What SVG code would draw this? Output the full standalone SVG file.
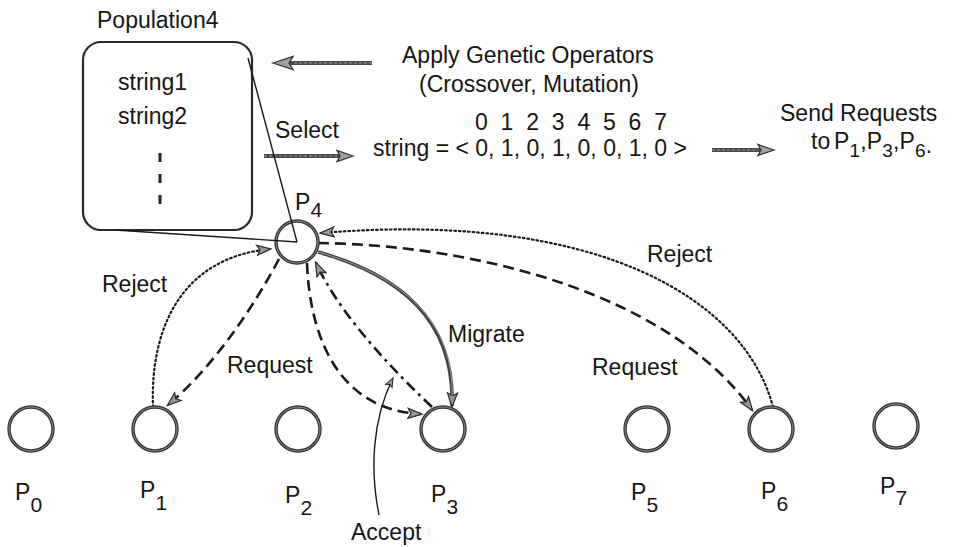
<svg xmlns="http://www.w3.org/2000/svg" width="965" height="547" viewBox="0 0 965 547">
  <style>
    text { font-family: "Liberation Sans", Arial, Helvetica, sans-serif; font-size: 23px; fill: #151515; }
    .node { fill: #fff; stroke: #333; stroke-width: 3.4; }
    .node-in { fill: none; stroke: #8c8c8c; stroke-width: 1; }
    .box { fill: #fff; stroke: #2a2a2a; stroke-width: 2.2; }
    .thin { fill: none; stroke: #1a1a1a; stroke-width: 1.4; }
    .dash { fill: none; stroke: #1a1a1a; stroke-width: 2.6; stroke-dasharray: 11 6; }
    .dot { fill: none; stroke: #1a1a1a; stroke-width: 2.2; stroke-dasharray: 1.6 3; stroke-linecap: round; }
    .dashdot { fill: none; stroke: #1a1a1a; stroke-width: 2.6; stroke-dasharray: 11 5 3 5; }
    .solid { fill: none; stroke: #444; stroke-width: 3.6; }
    .solid-in { fill: none; stroke: #999; stroke-width: 1; }
    .shaft { fill: none; stroke: #4a4a4a; stroke-width: 4.2; }
    .shaft-in { fill: none; stroke: #9a9a9a; stroke-width: 1; stroke-dasharray: 3 2; }
    .bighead { fill: #a0a0a0; stroke: #333; stroke-width: 1.3; }
    .sub { font-size: 21px; }
    .sub-s { font-size: 19px; }
  </style>
  <defs>
    <marker id="ah" markerUnits="userSpaceOnUse" markerWidth="18" markerHeight="14" refX="14" refY="7" orient="auto">
      <path d="M1,2 L15,7 L1,12 L4,7 Z" fill="#9a9a9a" stroke="#2a2a2a" stroke-width="1.2"/>
    </marker>
    <marker id="ahs" markerUnits="userSpaceOnUse" markerWidth="12" markerHeight="10" refX="10" refY="5" orient="auto">
      <path d="M1,1.5 L10,5 L1,8.5 L3,5 Z" fill="#9a9a9a" stroke="#2a2a2a" stroke-width="1"/>
    </marker>
  </defs>

  <!-- population box -->
  <g id="population4">
    <text x="97" y="28">Population4</text>
    <rect class="box" x="83" y="42" width="169" height="188" rx="18" ry="18"/>
    <text x="118" y="90">string1</text>
    <text x="118" y="124">string2</text>
    <rect x="158.5" y="153" width="3" height="9" fill="#222"/>
    <rect x="158.5" y="174" width="3" height="9" fill="#222"/>
    <rect x="158.5" y="195" width="3" height="9" fill="#222"/>
  </g>

  <!-- genetic operator annotations -->
  <g id="operators">
    <line class="shaft" x1="372" y1="63" x2="290" y2="63"/>
    <line class="shaft-in" x1="372" y1="63" x2="292" y2="63"/>
    <path class="bighead" d="M273,63 L293,56.5 L289,63 L293,69.5 Z"/>
    <text x="402" y="63">Apply Genetic Operators</text>
    <text x="529" y="92" text-anchor="middle">(Crossover, Mutation)</text>
  </g>

  <g id="select">
    <text x="275" y="138">Select</text>
    <line class="shaft" x1="264" y1="156" x2="340" y2="156"/>
    <line class="shaft-in" x1="264" y1="156" x2="338" y2="156"/>
    <path class="bighead" d="M353,156 L337,150.5 L340,156 L337,161.5 Z"/>
  </g>

  <g id="string">
    <text y="130" text-anchor="middle">
      <tspan x="481.4">0</tspan><tspan x="507">1</tspan><tspan x="532.6">2</tspan><tspan x="558.2">3</tspan><tspan x="583.8">4</tspan><tspan x="609.4">5</tspan><tspan x="635">6</tspan><tspan x="660.6">7</tspan>
    </text>
    <text x="373" y="156">string = &lt; 0, 1, 0, 1, 0, 0, 1, 0 &gt;</text>
  </g>

  <g id="send-requests">
    <line class="shaft" x1="712" y1="150" x2="760" y2="150"/>
    <line class="shaft-in" x1="712" y1="150" x2="758" y2="150"/>
    <path class="bighead" d="M774,150 L758,144.5 L761,150 L758,155.5 Z"/>
    <text x="780" y="121">Send Requests</text>
    <text x="811" y="149">to</text>
    <text x="834" y="149">P</text><text class="sub-s" x="849.5" y="157">1</text><text x="860.3" y="149">,</text>
    <text x="866.8" y="149">P</text><text class="sub-s" x="882.3" y="157">3</text><text x="893" y="149">,</text>
    <text x="899.5" y="149">P</text><text class="sub-s" x="915" y="157">6</text><text x="925.8" y="153">.</text>
  </g>

  <!-- connectors -->
  <g id="connectors">
    <path class="dot" d="M153,407 C150,330 180,258 270,249" marker-end="url(#ah)"/>
    <path class="dash" d="M279,259 C252,310 212,368 168,405" marker-end="url(#ah)"/>
    <path class="dash" d="M307,263 C310,340 340,410 421,414" marker-end="url(#ah)"/>
    <path class="dashdot" d="M432,407 Q345,325 316,263" marker-end="url(#ah)"/>
    <path class="solid" d="M318,252 C400,275 455,320 452,406" marker-end="url(#ah)"/>
    <path class="solid-in" d="M318,252 C400,275 455,320 452,398"/>
    <path class="dot" d="M773,407 C745,300 600,210 321,233" marker-end="url(#ah)"/>
    <path class="dash" d="M318,243 C480,245 670,295 752,410" marker-end="url(#ah)"/>
    <path class="thin" d="M379,515 C370,470 372,420 393,378" marker-end="url(#ahs)"/>
  </g>

  <!-- connector labels -->
  <g id="labels">
    <text x="102" y="292">Reject</text>
    <text x="227" y="373">Request</text>
    <text x="448" y="342">Migrate</text>
    <text x="592" y="375">Request</text>
    <text x="647" y="262">Reject</text>
    <text x="351" y="540">Accept</text>
  </g>

  <!-- processors -->
  <g id="P4">
    <circle class="node" cx="297" cy="242" r="21"/>
    <circle class="node-in" cx="297" cy="242" r="21"/>
    <!-- callout lines from the population box into P4 -->
    <line class="thin" x1="248" y1="58" x2="297" y2="242"/>
    <line class="thin" x1="115" y1="230" x2="297" y2="242"/>
    <text x="295" y="210">P</text><text class="sub" x="310.5" y="217">4</text>
  </g>
  <g id="P0">
    <circle class="node" cx="31" cy="429" r="22"/>
    <circle class="node-in" cx="31" cy="429" r="22"/>
    <text x="15" y="500">P</text><text class="sub" x="30.5" y="512">0</text>
  </g>
  <g id="P1">
    <circle class="node" cx="155" cy="429" r="22"/>
    <circle class="node-in" cx="155" cy="429" r="22"/>
    <text x="140" y="498">P</text><text class="sub" x="155.5" y="510">1</text>
  </g>
  <g id="P2">
    <circle class="node" cx="298" cy="429" r="22"/>
    <circle class="node-in" cx="298" cy="429" r="22"/>
    <text x="285" y="503">P</text><text class="sub" x="300.5" y="515">2</text>
  </g>
  <g id="P3">
    <circle class="node" cx="443" cy="429" r="22"/>
    <circle class="node-in" cx="443" cy="429" r="22"/>
    <text x="431" y="502">P</text><text class="sub" x="446.5" y="514">3</text>
  </g>
  <g id="P5">
    <circle class="node" cx="647" cy="429" r="22"/>
    <circle class="node-in" cx="647" cy="429" r="22"/>
    <text x="631" y="500">P</text><text class="sub" x="646.5" y="512">5</text>
  </g>
  <g id="P6">
    <circle class="node" cx="771" cy="429" r="22"/>
    <circle class="node-in" cx="771" cy="429" r="22"/>
    <text x="761" y="499">P</text><text class="sub" x="776.5" y="511">6</text>
  </g>
  <g id="P7">
    <circle class="node" cx="896" cy="426" r="22"/>
    <circle class="node-in" cx="896" cy="426" r="22"/>
    <text x="880" y="494">P</text><text class="sub" x="895.5" y="505">7</text>
  </g>
</svg>
